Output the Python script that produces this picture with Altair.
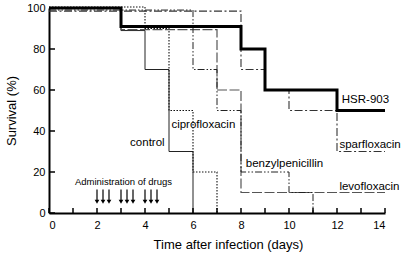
import altair as alt
import pandas as pd

# ---- data ----
control_days = [0, 3, 4, 5, 6]
control_surv = [100, 89, 70, 30, 0]

cipro_days = [0, 4, 5, 6, 7]
cipro_surv = [100.5, 90, 50, 20, 0]

hsr_days = [0, 3, 8, 9, 12, 14]
hsr_surv = [100, 91, 80, 60, 50, 50]

spar_days = [0, 8, 9, 10, 12, 14]
spar_surv = [98.5, 70, 60, 50, 30, 30]

benzyl_days = [0, 6, 7, 8, 10, 11]
benzyl_surv = [99, 70, 50, 20, 10, 0]

levo_days = [0, 3, 7, 8, 14]
levo_surv = [100, 89.5, 60, 10, 10]

dose_days = [2, 2.25, 2.5, 3, 3.25, 3.5, 4, 4.25, 4.5]
x_tick_days = list(range(0, 15))
x_label_days = list(range(0, 15, 2))
y_tick_vals = [0, 20, 40, 60, 80, 100]

W, H = 336, 205
FONT = "Liberation Sans"

xs = alt.Scale(domain=[0, 14], nice=False)
ys = alt.Scale(domain=[0, 100], nice=False)

series = [
    ("control", control_days, control_surv, dict(color="#222", strokeWidth=1)),
    ("ciprofloxacin", cipro_days, cipro_surv, dict(color="#111", strokeWidth=1.1, strokeDash=[1.5, 1.5])),
    ("levofloxacin", levo_days, levo_surv, dict(color="#555", strokeWidth=1.2, strokeDash=[10, 2.5])),
    ("benzylpenicillin", benzyl_days, benzyl_surv, dict(color="#222", strokeWidth=1, strokeDash=[7, 2, 1.5, 2, 1.5, 2])),
    ("sparfloxacin", spar_days, spar_surv, dict(color="#333", strokeWidth=1.1, strokeDash=[8, 2.5, 2, 2.5])),
    ("HSR-903", hsr_days, hsr_surv, dict(color="#000", strokeWidth=3)),
]

layers = []
for name, d, s, style in series:
    df = pd.DataFrame({"day": d, "surv": s, "series": name})
    layers.append(
        alt.Chart(df).mark_line(interpolate="step-after", **style).encode(
            x=alt.X("day:Q", scale=xs,
                    axis=alt.Axis(values=x_label_days, title="Time after infection (days)",
                                  ticks=False, tickSize=0, labelPadding=6, grid=False,
                                  titleX=179, titleY=35, titleBaseline="alphabetic")),
            y=alt.Y("surv:Q", scale=ys,
                    axis=alt.Axis(values=y_tick_vals, title="Survival (%)",
                                  ticks=False, tickSize=0, labelPadding=4, grid=False,
                                  titlePadding=8)),
        )
    )

# inward tick marks
xt = alt.Chart(pd.DataFrame({"day": x_tick_days})).mark_rule(color="black", strokeWidth=1.5).encode(
    x=alt.X("day:Q", scale=xs), y=alt.value(H), y2=alt.value(H - 5)
)
yt = alt.Chart(pd.DataFrame({"surv": y_tick_vals})).mark_rule(color="black", strokeWidth=1.5).encode(
    y=alt.Y("surv:Q", scale=ys), x=alt.value(0), x2=alt.value(6)
)

# dose arrows
dose_df = pd.DataFrame({"day": dose_days, "top": [11.5] * len(dose_days), "bot": [5.5] * len(dose_days)})
shafts = alt.Chart(dose_df).mark_rule(color="black", strokeWidth=1.2).encode(
    x=alt.X("day:Q", scale=xs), y=alt.Y("top:Q", scale=ys), y2="bot:Q"
)
heads = alt.Chart(dose_df).mark_point(shape="triangle-down", filled=True, color="black", size=22, opacity=1).encode(
    x=alt.X("day:Q", scale=xs), y=alt.Y("bot:Q", scale=ys)
)

# annotations
ann = pd.DataFrame({
    "label": ["HSR-903", "sparfloxacin", "levofloxacin", "benzylpenicillin", "ciprofloxacin", "control"],
    "day": [12.2, 12.1, 12.1, 8.2, 5.1, 3.38],
    "surv": [55, 33, 12.7, 23.7, 42.9, 34],
})
texts = alt.Chart(ann).mark_text(align="left", baseline="middle", font=FONT, fontSize=11.5, color="black").encode(
    x=alt.X("day:Q", scale=xs), y=alt.Y("surv:Q", scale=ys), text="label:N"
)
admin = alt.Chart(pd.DataFrame({"label": ["Administration of drugs"], "day": [1.08], "surv": [15.2]})).mark_text(
    align="left", baseline="middle", font=FONT, fontSize=9.5, color="black"
).encode(x=alt.X("day:Q", scale=xs), y=alt.Y("surv:Q", scale=ys), text="label:N")

chart = alt.layer(*layers, xt, yt, shafts, heads, texts, admin).properties(
    width=W, height=H,
    autosize=alt.AutoSizeParams(type="none"),
    padding={"left": 49, "top": 8, "right": 19, "bottom": 43},
    background="white",
).configure_view(stroke=None).configure_axis(
    labelFont=FONT, labelFontSize=11, labelColor="black",
    titleFont=FONT, titleFontSize=13, titleFontWeight="normal", titleColor="black",
    domainColor="black", domainWidth=2,
)

chart.save("out.html", embed_options={"renderer": "svg", "actions": False})
